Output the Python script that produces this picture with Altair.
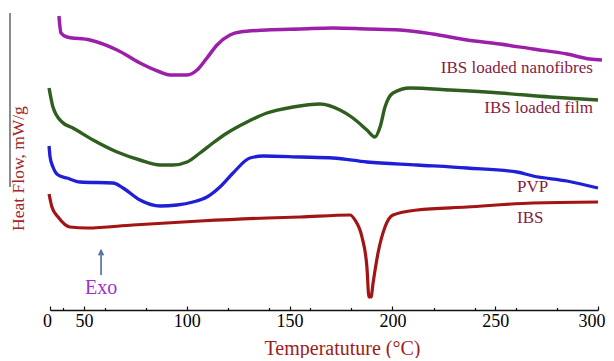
import altair as alt
import pandas as pd

# ---- data (temperature in °C, heat flow in arbitrary offset units) ----
NANO_T = [37.8, 38.8, 41.7, 52.9, 66.1, 77.2, 87.0, 91.8, 100.1, 105.0, 109.8, 114.7, 121.0, 125.9,
          139.0, 155.1, 171.1, 187.6, 203.7, 219.7, 236.3, 252.3, 268.4, 284.9, 296.1, 301.9]
NANO_V = [294, 277, 273, 270, 260, 247, 238, 235, 235, 240, 252, 265, 275, 278,
          280, 281, 282, 281, 280, 276, 270, 266, 261, 256, 251, 250]

FILM_T = [33.0, 34.9, 39.3, 44.6, 54.4, 66.1, 77.2, 87.0, 93.3, 100.1, 106.4, 112.7, 119.6, 129.3,
          139.0, 151.7, 164.8, 174.5, 180.8, 187.6, 191.5, 194.0, 196.4, 200.3, 208.6, 228.0,
          252.3, 276.7, 300.0]
FILM_V = [222, 203, 188, 182, 170, 158, 150, 145, 145, 148, 157, 167, 177, 188,
          197, 203, 206, 200, 192, 180, 173, 183, 203, 217, 222, 220,
          217, 213, 210]

PVP_T = [33.0, 33.5, 34.9, 37.4, 41.7, 48.1, 64.1, 69.0, 77.2, 87.0, 95.2, 103.0, 109.8, 116.1,
         122.5, 130.7, 137.1, 155.1, 171.1, 187.6, 212.0, 236.3, 260.6, 268.4, 284.9, 300.0]
PVP_V = [164, 153, 143, 135, 132, 128, 127, 122, 110, 104, 105, 108, 113, 123,
         137, 152, 154, 153, 152, 148, 145, 142, 138, 134, 129, 122]

IBS_T = [33.0, 34.4, 37.4, 43.2, 51.5, 73.8, 106.4, 139.0, 155.1, 179.4, 181.8, 185.2, 187.6,
         188.6, 189.6, 190.6, 193.0, 196.4, 200.3, 212.0, 236.3, 268.4, 300.0]
IBS_V = [116, 103, 93, 83, 82, 85, 89, 92, 93, 95, 90, 73, 43,
         13, 13, 27, 57, 83, 95, 100, 103, 107, 108]

SERIES = ["IBS loaded nanofibres", "IBS loaded film", "PVP", "IBS"]
COLORS = ["#9c1fa9", "#2f5f1f", "#1f1fd8", "#a31515"]
WIDTHS = [3.5, 3.2, 3.5, 1.9]

LABELS_R = ["IBS loaded nanofibres", "IBS loaded film"]
LABELS_R_T = [297.5, 297.5]
LABELS_R_V = [242, 202]
LABELS_L = ["PVP", "IBS"]
LABELS_L_T = [260.6, 260.6]
LABELS_L_V = [123, 92]

EXO_T = [58.3]
EXO_V = [22]
ARROW_T = [58.3]
ARROW_V1 = [35]
ARROW_V2 = [57]

X_DOMAIN = [33.46, 300]
LABEL_TICKS = [33.46, 50, 100, 150, 200, 250, 300]
MINOR_TICKS = [40, 60, 80, 120, 140, 160, 180, 220, 240, 260, 280]

rows = []
for name, ts, vs in [(SERIES[0], NANO_T, NANO_V), (SERIES[1], FILM_T, FILM_V),
                     (SERIES[2], PVP_T, PVP_V), (SERIES[3], IBS_T, IBS_V)]:
    for t, v in zip(ts, vs):
        rows.append({"series": name, "T": t, "V": v})
df = pd.DataFrame(rows)

lab_r = pd.DataFrame({"label": LABELS_R, "T": LABELS_R_T, "V": LABELS_R_V})
lab_l = pd.DataFrame({"label": LABELS_L, "T": LABELS_L_T, "V": LABELS_L_V})
exo = pd.DataFrame({"label": ["Exo"], "T": EXO_T, "V": EXO_V})
arrow = pd.DataFrame({"T": ARROW_T, "V": ARROW_V1, "V2": ARROW_V2})

SERIF = "Liberation Serif"
x_scale = alt.Scale(domain=X_DOMAIN, nice=False, zero=False)
y_scale = alt.Scale(domain=[0, 297], nice=False, zero=False)

y_axis = alt.Axis(domain=False, ticks=False, labels=False, grid=False,
                  title="Heat Flow, mW/g", titleFont=SERIF, titleFontSize=17.5,
                  titleFontWeight="normal", titleColor="#a3262a", titleAngle=270,
                  titleX=-32, titleY=155, titleBaseline="middle", titleAlign="center")

bottom_axis = alt.Axis(orient="bottom", values=LABEL_TICKS,
                       labelExpr="datum.value < 40 ? '0' : format(datum.value, 'd')",
                       labelAlign={"condition": {"test": "datum.value >= 300", "value": "right"},
                                   "value": "center"},
                       labelOffset={"condition": [{"test": "datum.value < 40", "value": -3},
                                                  {"test": "datum.value >= 300", "value": 7}],
                                    "value": 0},
                       ticks=False, domainColor="#111", domainWidth=1.3, grid=False,
                       labelFont=SERIF, labelFontSize=18, labelColor="#000",
                       labelPadding=2, labelFlush=False, labelOverlap=False,
                       title="Temperatuture (°C)", titleFont=SERIF, titleFontSize=20,
                       titleFontWeight="normal", titleColor="#9e1c1c",
                       titleX=292, titleY=38, titleBaseline="middle", titleAlign="center")

major_axis = alt.Axis(orient="top", offset=-297, values=LABEL_TICKS, tickSize=4,
                      tickColor="#111", tickWidth=1.2, labels=False, domain=False,
                      grid=False, title=None)
minor_axis = alt.Axis(orient="top", offset=-297, values=MINOR_TICKS, tickSize=2.5,
                      tickColor="#111", tickWidth=1.2, labels=False, domain=False,
                      grid=False, title=None)

lines = alt.Chart(df).mark_line(interpolate="monotone").encode(
    x=alt.X("T:Q", scale=x_scale, axis=bottom_axis),
    y=alt.Y("V:Q", scale=y_scale, axis=y_axis),
    color=alt.Color("series:N", scale=alt.Scale(domain=SERIES, range=COLORS), legend=None),
    strokeWidth=alt.StrokeWidth("series:N", scale=alt.Scale(domain=SERIES, range=WIDTHS), legend=None),
)

text_r = alt.Chart(lab_r).mark_text(align="right", baseline="middle", font=SERIF,
                                    fontSize=17, color="#861d3f").encode(
    x=alt.X("T:Q", scale=x_scale, axis=major_axis),
    y=alt.Y("V:Q", scale=y_scale, axis=y_axis),
    text="label:N",
)

text_l = alt.Chart(lab_l).mark_text(align="left", baseline="middle", font=SERIF,
                                    fontSize=17, color="#861d3f").encode(
    x=alt.X("T:Q", scale=x_scale, axis=minor_axis),
    y=alt.Y("V:Q", scale=y_scale, axis=y_axis),
    text="label:N",
)

exo_text = alt.Chart(exo).mark_text(align="center", baseline="middle", font=SERIF,
                                    fontSize=20, color="#a12fcf").encode(
    x=alt.X("T:Q", scale=x_scale, axis=None),
    y=alt.Y("V:Q", scale=y_scale, axis=y_axis),
    text="label:N",
)

arrow_shaft = alt.Chart(arrow).mark_rule(color="#4a6b94", strokeWidth=1.6).encode(
    x=alt.X("T:Q", scale=x_scale, axis=None),
    y=alt.Y("V:Q", scale=y_scale, axis=y_axis),
    y2="V2:Q",
)

arrow_head = alt.Chart(arrow).mark_point(shape="M-1,1L0,-1L1,1", filled=False,
                                         color="#4a6b94", strokeWidth=1.6, size=22,
                                         opacity=1).encode(
    x=alt.X("T:Q", scale=x_scale, axis=None),
    y=alt.Y("V2:Q", scale=y_scale, axis=y_axis),
)

y_line = alt.Chart(exo).mark_rule(color="#666", strokeWidth=1.5).encode(
    x=alt.value(-40), y=alt.value(0), y2=alt.value(174)
)

chart = alt.layer(lines, text_r, text_l, exo_text, arrow_shaft, arrow_head, y_line).resolve_axis(
    x="independent"
).properties(
    width=548, height=297,
    autosize=alt.AutoSizeParams(type="none"),
    padding={"left": 42, "top": 5, "right": 8, "bottom": 48},
    background="white",
).configure_view(stroke=None)

chart.save("out.html", embed_options={"renderer": "svg", "actions": False})
